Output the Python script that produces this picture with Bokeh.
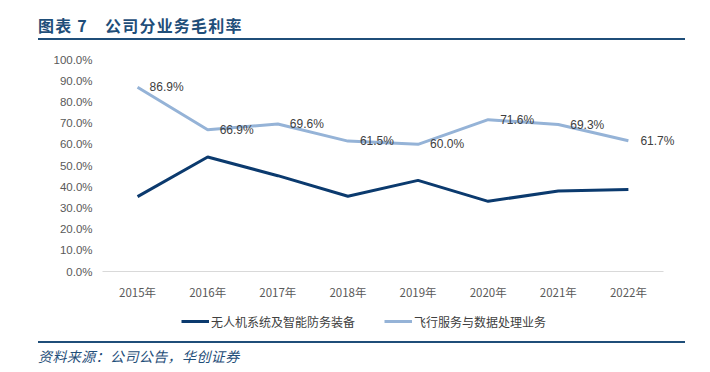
from bokeh.plotting import figure
from bokeh.models import (ColumnDataSource, Range1d, FixedTicker, PrintfTickFormatter,
                          LabelSet, Legend, LegendItem, Div)
from bokeh.core.properties import value
from bokeh.layouts import column
from bokeh.embed import file_html
from bokeh.resources import INLINE

years = ["2015年", "2016年", "2017年", "2018年", "2019年", "2020年", "2021年", "2022年"]
uav_defense = [35.3, 54.0, 45.2, 35.5, 43.0, 33.1, 38.0, 38.7]
flight_data = [86.9, 66.9, 69.6, 61.5, 60.0, 71.6, 69.3, 61.7]
series_names = ["无人机系统及智能防务装备", "飞行服务与数据处理业务"]
y_ticks = [0, 10, 20, 30, 40, 50, 60, 70, 80, 90, 100]
title_text = "图表 7\u3000公司分业务毛利率"
source_text = "资料来源：公司公告，华创证券"

DARK = "#0B3A6E"
LIGHT = "#95B3D7"
NAVY = "#1F4E79"
GRAY = "#595959"
FONT = "Liberation Sans"
CJK = "Noto Sans CJK SC"
W = 700

idx = list(range(len(years)))
src = ColumnDataSource(dict(
    x=idx, a=uav_defense, b=flight_data,
    lab=[f"{v:.1f}%" for v in flight_data],
))

n = len(years)
p = figure(width=W, height=266, x_range=Range1d(-0.5, n - 0.5 + 0.4), y_range=Range1d(0, 100),
           output_backend="svg", toolbar_location=None,
           min_border_left=102, min_border_right=9, min_border_top=19, min_border_bottom=35)
p.outline_line_color = None
p.xgrid.visible = False
p.ygrid.visible = False

p.line("x", "a", source=src, line_color=DARK, line_width=3)
p.line("x", "b", source=src, line_color=LIGHT, line_width=3)

labels = LabelSet(x="x", y="b", text="lab", source=src, x_offset=12,
                  text_baseline="middle", text_align="left",
                  text_font=value(FONT), text_font_size=value("12px"), text_color="#404040")
p.add_layout(labels)

# axes
p.yaxis.ticker = FixedTicker(ticks=y_ticks)
p.yaxis.formatter = PrintfTickFormatter(format="%.1f%%")
p.yaxis.axis_line_color = None
p.yaxis.major_tick_line_color = None
p.yaxis.minor_tick_line_color = None
p.yaxis.major_label_standoff = 4
p.yaxis.major_label_text_font = FONT
p.yaxis.major_label_text_font_size = "11.5px"
p.yaxis.major_label_text_color = GRAY

p.xaxis.ticker = FixedTicker(ticks=idx)
p.xaxis.major_label_overrides = {i: y for i, y in zip(idx, years)}
p.xaxis.bounds = (-0.5, n - 0.5)
p.xaxis.axis_line_color = "#D9D9D9"
p.xaxis.axis_line_width = 1
p.xaxis.major_tick_line_color = None
p.xaxis.minor_tick_line_color = None
p.xaxis.major_label_standoff = 6
p.xaxis.major_label_text_font = CJK
p.xaxis.major_label_text_font_size = "11.5px"
p.xaxis.major_label_text_color = GRAY

# legend row (separate strip so that it is not clipped by the main frame)
lg = figure(width=W, height=35, x_range=Range1d(0, 1), y_range=Range1d(0, 1),
            output_backend="svg", toolbar_location=None,
            x_axis_location=None, y_axis_location=None,
            min_border_left=102, min_border_right=9, min_border_top=0, min_border_bottom=0)
lg.outline_line_color = None
lg.grid.visible = False
nan = float("nan")
k1 = lg.line(x=[nan, nan], y=[nan, nan], line_color=DARK, line_width=3)
k2 = lg.line(x=[nan, nan], y=[nan, nan], line_color=LIGHT, line_width=3)
legend = Legend(items=[LegendItem(label=series_names[0], renderers=[k1]),
                       LegendItem(label=series_names[1], renderers=[k2])],
                location=(79, 10), orientation="horizontal",
                padding=0, margin=0, spacing=29, glyph_width=28, glyph_height=20,
                label_standoff=2, border_line_color=None, background_fill_alpha=0,
                label_text_font=CJK, label_text_font_size="12px", label_text_color="#404040")
lg.add_layout(legend, "center")

header = Div(width=W, height=40, margin=(0, 0, 0, 0), text=(
    '<div style="position:relative;width:%dpx;height:40px;">'
    '<div style="position:absolute;left:38px;top:15px;line-height:20px;white-space:nowrap;letter-spacing:1.2px;'
    'font-family:\'Noto Sans CJK SC\';font-weight:bold;font-size:16px;color:%s;">%s</div>'
    '<div style="position:absolute;left:38px;top:38px;width:647px;height:2px;background:%s;"></div>'
    '</div>') % (W, NAVY, title_text, NAVY))

footer = Div(width=W, height=27, margin=(0, 0, 0, 0), text=(
    '<div style="position:relative;width:%dpx;height:27px;">'
    '<div style="position:absolute;left:38px;top:0px;width:647px;height:2px;background:%s;"></div>'
    '<div style="position:absolute;left:38px;top:5px;line-height:20px;white-space:nowrap;letter-spacing:0.4px;'
    'font-family:\'Noto Sans CJK SC\';font-style:italic;font-size:14px;color:%s;">%s</div>'
    '</div>') % (W, NAVY, NAVY, source_text))

layout = column(header, p, lg, footer, spacing=0)
open("out.html", "w").write(file_html(layout, INLINE))
